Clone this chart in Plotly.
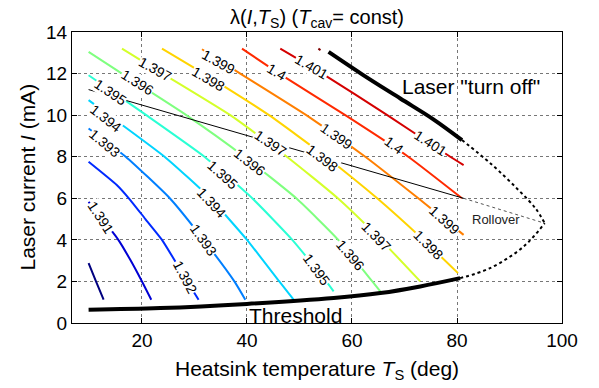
import plotly.graph_objects as go

# ---------------- data ----------------
# Contour lines of lambda(I, T_S): heatsink temperature T (deg) and current I (mA)
T_1390 = [9.83, 11.24, 12.69]
I_1390 = [2.88, 2.0, 1.12]
T_1391 = [9.83, 12.0, 15.5, 17.77, 20.0, 21.77]
I_1391 = [5.83, 5.15, 4.0, 3.04, 2.0, 1.12]
T_1392 = [9.83, 15.2, 17.5, 20.65, 23.81, 28.63, 30.78]
I_1392 = [7.76, 6.64, 6.0, 5.0, 4.0, 2.0, 1.12]
T_1393 = [9.83, 16.9, 25.3, 31.73, 37.6, 39.68]
I_1393 = [9.36, 8.0, 6.0, 4.0, 2.0, 1.12]
T_1394 = [9.83, 13.7, 24.3, 33.0, 40.0, 46.15, 48.88]
I_1394 = [10.72, 10.0, 8.0, 6.0, 4.0, 2.0, 1.12]
T_1395 = [9.83, 13.96, 20.82, 31.9, 41.0, 48.63, 55.1, 56.5]
I_1395 = [11.92, 11.2, 10.0, 8.0, 6.0, 4.0, 2.0, 1.52]
T_1396 = [9.83, 16.19, 28.44, 39.49, 49.39, 57.39, 63.87, 65.39]
I_1396 = [13.04, 12.0, 10.0, 8.0, 6.0, 4.0, 2.0, 1.52]
T_1397 = [16.19, 23.92, 36.82, 47.6, 57.3, 65.5, 73.01]
I_1397 = [13.2, 12.0, 10.0, 8.0, 6.0, 4.0, 2.0]
T_1398 = [23.81, 31.73, 44.2, 55.0, 64.8, 73.6, 80.19]
I_1398 = [13.2, 12.0, 10.0, 8.0, 6.0, 4.0, 2.4]
T_1399 = [31.43, 38.72, 51.3, 62.53, 72.63, 81.26]
I_1399 = [13.17, 12.0, 10.0, 8.0, 6.0, 4.24]
T_1400 = [39.05, 46.15, 58.72, 70.72, 80.95]
I_1400 = [13.2, 12.0, 10.0, 8.0, 6.0]
T_1401 = [46.34, 54.34, 66.72, 78.72, 81.26]
I_1401 = [13.2, 12.0, 10.0, 8.0, 7.6]
T_1402 = [53.6, 54.0]
I_1402 = [13.2, 13.13]

levels = [1.390, 1.391, 1.392, 1.393, 1.394, 1.395, 1.396,
          1.397, 1.398, 1.399, 1.400, 1.401, 1.402]

# Threshold, "turn off", rollover boundary and the thin reference line
T_thr = [9.83, 23.5, 40.0, 56.5, 65.4, 73.0, 80.6]
I_thr = [0.64, 0.72, 0.92, 1.2, 1.44, 1.76, 2.16]
T_off = [55.54, 62.0, 69.2, 75.5, 80.95]
I_off = [13.04, 11.95, 10.8, 9.8, 8.8]
T_roll_up = [80.95, 86.5, 91.5, 95.0, 96.7]
I_roll_up = [8.8, 7.65, 6.45, 5.5, 4.8]
T_roll_lo = [80.6, 86.3, 92.7, 96.7]
I_roll_lo = [2.16, 2.64, 3.68, 4.8]
T_thin = [9.83, 81.26]
I_thin = [11.23, 6.0]
T_roll_thin = [81.26, 96.7]
I_roll_thin = [6.0, 4.8]

# Inline contour labels: text, T, I
label_text = ["1.391", "1.392", "1.393", "1.393", "1.394", "1.394",
              "1.395", "1.395", "1.395", "1.396", "1.396", "1.396",
              "1.397", "1.397", "1.397", "1.398", "1.398", "1.398",
              "1.399", "1.399", "1.399", "1.4", "1.4", "1.401", "1.401"]
label_T = [12.06, 28.25, 12.82, 31.73, 13.01, 33.33,
           13.96, 35.39, 53.33, 19.05, 40.44, 59.68,
           22.53, 44.44, 64.76, 32.69, 54.34, 74.59,
           34.59, 57.0, 77.58, 45.71, 67.92, 52.38, 74.93]
label_I = [5.08, 2.23, 8.64, 4.0, 9.84, 5.78,
           11.12, 7.12, 2.56, 11.6, 7.74, 3.28,
           12.24, 8.66, 4.16, 11.76, 7.96, 3.76,
           12.56, 9.0, 4.96, 12.08, 8.54, 12.32, 8.66]
label_angle = [57, 62, 40, 55, 38, 47,
               34, 42, 54, 32, 38, 50,
               29, 34, 46, 30, 37, 45,
               29, 35, 42, 31, 36, 30, 33]

# ---------------- figure ----------------
FONT = "Liberation Sans, Arial, Helvetica, sans-serif"
# The page body adds an 8px offset; the figure is sized so it ends at 599x388.
W, H = 591, 380
ML, MR, MT, MB = 64, 37, 24, 65
PW, PH = W - ML - MR, H - MT - MB


def jet(t):
    def c(v):
        return max(0.0, min(1.0, v))
    r = c(1.5 - abs(4 * t - 3))
    g = c(1.5 - abs(4 * t - 2))
    b = c(1.5 - abs(4 * t - 1))
    return f"rgb({int(r*255)},{int(g*255)},{int(b*255)})"


contour_T = [T_1390, T_1391, T_1392, T_1393, T_1394, T_1395, T_1396,
             T_1397, T_1398, T_1399, T_1400, T_1401, T_1402]
contour_I = [I_1390, I_1391, I_1392, I_1393, I_1394, I_1395, I_1396,
             I_1397, I_1398, I_1399, I_1400, I_1401, I_1402]

fig = go.Figure()
lo, hi = levels[0], levels[-1]
for lev, tx, iy in zip(levels, contour_T, contour_I):
    fig.add_trace(go.Scatter(
        x=tx, y=iy, mode="lines",
        line=dict(color=jet((lev - lo) / (hi - lo)), width=2,
                  shape="spline", smoothing=0.5),
        hoverinfo="skip", showlegend=False))

# thin reference line
fig.add_trace(go.Scatter(x=T_thin, y=I_thin, mode="lines",
                         line=dict(color="black", width=1),
                         showlegend=False, hoverinfo="skip"))
# rollover dotted boundaries
fig.add_trace(go.Scatter(x=T_roll_thin, y=I_roll_thin, mode="lines",
                         line=dict(color="#555555", width=1, dash="dot"),
                         showlegend=False, hoverinfo="skip"))
fig.add_trace(go.Scatter(x=T_roll_up, y=I_roll_up, mode="lines",
                         line=dict(color="black", width=2, dash="dot",
                                   shape="spline"),
                         showlegend=False, hoverinfo="skip"))
fig.add_trace(go.Scatter(x=T_roll_lo, y=I_roll_lo, mode="lines",
                         line=dict(color="black", width=2, dash="dot",
                                   shape="spline"),
                         showlegend=False, hoverinfo="skip"))
# threshold and turn-off
fig.add_trace(go.Scatter(x=T_thr, y=I_thr, mode="lines",
                         line=dict(color="black", width=4, shape="spline"),
                         showlegend=False, hoverinfo="skip"))
fig.add_trace(go.Scatter(x=T_off, y=I_off, mode="lines",
                         line=dict(color="black", width=4, shape="spline"),
                         showlegend=False, hoverinfo="skip"))

annotations = []
for txt, tx, iy, ang in zip(label_text, label_T, label_I, label_angle):
    annotations.append(dict(
        x=tx, y=iy, xref="x", yref="y", text=txt, showarrow=False,
        textangle=ang, font=dict(family=FONT, size=14, color="black"),
        bgcolor="white", borderpad=0, xanchor="center", yanchor="middle"))

annotations += [
    dict(x=69.2, y=11.36, xref="x", yref="y", text='Laser "turn off"',
         showarrow=False, xanchor="left", yanchor="middle",
         font=dict(family=FONT, size=21, color="black")),
    dict(x=40.0, y=0.36, xref="x", yref="y", text="Threshold",
         showarrow=False, xanchor="left", yanchor="middle",
         font=dict(family=FONT, size=21, color="black")),
    dict(x=82.5, y=4.96, xref="x", yref="y", text="Rollover",
         showarrow=False, xanchor="left", yanchor="middle",
         font=dict(family=FONT, size=13, color="#222222")),
    # axis titles
    dict(x=-45.0 / PW, y=0.5, xref="paper", yref="paper",
         text="Laser current <i>I</i> (mA)", textangle=-90,
         showarrow=False, xanchor="center", yanchor="middle",
         font=dict(family=FONT, size=21, color="black")),
    dict(x=0.5, y=-47.0 / PH, xref="paper", yref="paper",
         text="Heatsink temperature <i>T</i><sub>S</sub> (deg)",
         showarrow=False, xanchor="center", yanchor="middle",
         font=dict(family=FONT, size=21, color="black")),
]

axis_common = dict(
    showline=True, linecolor="black", linewidth=1, mirror="ticks",
    ticks="inside", ticklen=5, tickcolor="black", automargin=False,
    showgrid=True, gridcolor="#777777", griddash="dot", gridwidth=1,
    zeroline=False, tickfont=dict(family=FONT, size=19, color="black"),
)

fig.update_layout(
    width=W, height=H,
    margin=dict(l=ML, r=MR, t=MT, b=MB),
    paper_bgcolor="white", plot_bgcolor="white",
    title=dict(text="λ(<i>I</i>,<i>T</i><sub>S</sub>) (<i>T</i><sub>cav</sub>= const)",
               x=0.5, xref="paper", xanchor="center",
               y=1 - 2.0 / H, yref="container", yanchor="top",
               font=dict(family=FONT, size=20, color="black")),
    xaxis=dict(range=[6.67, 100], tickvals=[20, 40, 60, 80, 100],
               **axis_common),
    yaxis=dict(range=[0, 14], tickvals=[0, 2, 4, 6, 8, 10, 12, 14],
               **axis_common),
    annotations=annotations,
)

fig.write_html("out.html")
